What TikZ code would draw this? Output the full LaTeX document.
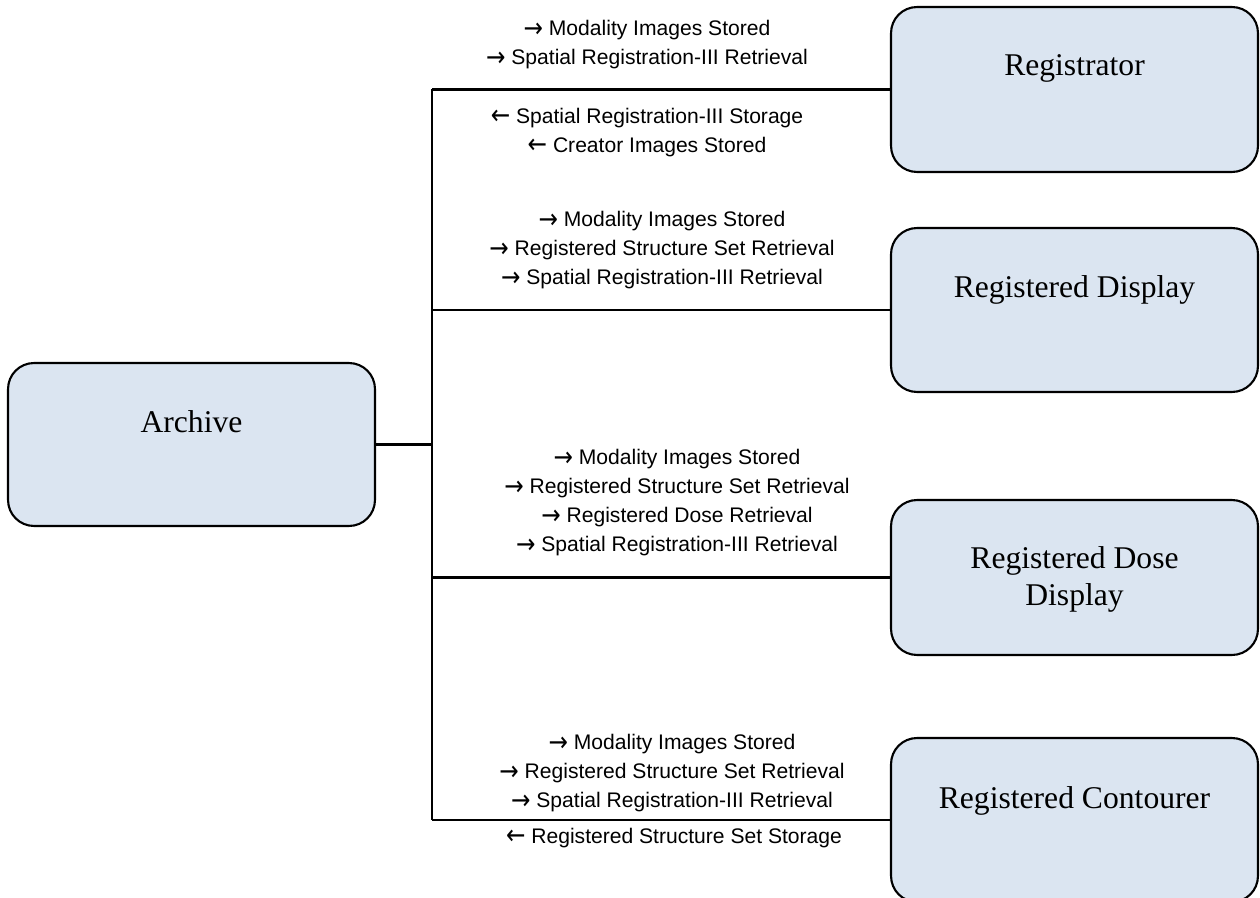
\documentclass[tikz,border=0pt]{standalone}
\usepackage{fontspec}
\usepackage{graphicx}
\setmainfont{Liberation Serif}
\newfontfamily\labelfont{Liberation Sans}
\newfontfamily\arrowfont{DejaVu Sans}
\usepackage{tikz}
\usetikzlibrary{positioning, calc}
\definecolor{BoxFill}{RGB}{219,229,241}
\definecolor{LineColor}{RGB}{0,0,0}
\newcommand{\sent}{\raisebox{-0.1ex}{\scalebox{1.1}[1.3]{\arrowfont →}}}
\newcommand{\got}{\raisebox{-0.1ex}{\scalebox{1.1}[1.3]{\arrowfont ←}}}
\tikzstyle{actor} = [rectangle, rounded corners=0.52cm, draw=LineColor, line width=1.2pt, fill=BoxFill, minimum width=7.34cm, minimum height=3.28cm, inner sep=0pt]
\tikzstyle{link} = [line width=1.2pt, LineColor]
\tikzset{
  actor text/.style={font=\fontsize{18}{21}\selectfont, align=center, inner sep=0pt},
  msg/.style={font=\labelfont\fontsize{12}{16.5}\selectfont, align=center, inner sep=0pt}
}

\begin{document}
\begin{tikzpicture}[x=0.02cm, y=-0.02cm]
                \useasboundingbox (0,0) rectangle (1260,898);
                % Actors
                \node[actor, minimum height=3.26cm] (archive) at (191.5,444.5) {};
                \node[actor, minimum height=3.30cm] (reg) at (1074.5,89.5) {};
                \node[actor] (disp) at (1074.5,310) {};
                \node[actor, minimum height=3.10cm] (dose) at (1074.5,577.5) {};
                \node[actor] (cont) at (1074.5,820) {};
                
                \node[actor text, anchor=base] (archivetext) at (191.5,432) {Archive};
                \node[actor text, anchor=base] (regtext) at (1074.5,76) {Registrator};
                \node[actor text, anchor=base] (disptext) at (1074.5,297) {Registered Display};
                \node[actor text] (dosetext) at (1074.5,579) {Registered Dose\\Display};
                \node[actor text, anchor=base] (conttext) at (1074.5,808) {Registered Contourer};
                
                % Bus from the archive
                \coordinate (bus) at (432,445);
                \draw[link] (archive.east) -- (archive.east -| bus);
                \draw[link] (reg.west -| bus) -- (cont.west -| bus);
                \draw[link] (reg.west) -- (reg.west -| bus);
                \draw[link] (disp.west) -- (disp.west -| bus);
                \draw[link] (dose.west) -- (dose.west -| bus);
                \draw[link] (cont.west) -- (cont.west -| bus);
                
                % Transactions
                \node[msg] (regin) at (647,45) {\sent{} Modality Images Stored\\\sent{} Spatial Registration-III Retrieval};
                \node[msg] (regout) at (647,132.5) {\got{} Spatial Registration-III Storage\\\got{} Creator Images Stored};
                \node[msg] (dispin) at (662,250.5) {\sent{} Modality Images Stored\\\sent{} Registered Structure Set Retrieval\\\sent{} Spatial Registration-III Retrieval};
                \node[msg] (dosein) at (677,503) {\sent{} Modality Images Stored\\\sent{} Registered Structure Set Retrieval\\\sent{} Registered Dose Retrieval\\\sent{} Spatial Registration-III Retrieval};
                \node[msg] (contin) at (672,773.5) {\sent{} Modality Images Stored\\\sent{} Registered Structure Set Retrieval\\\sent{} Spatial Registration-III Retrieval};
                \node[msg] (contout) at (674,838) {\got{} Registered Structure Set Storage};
            \end{tikzpicture}
\end{document}
